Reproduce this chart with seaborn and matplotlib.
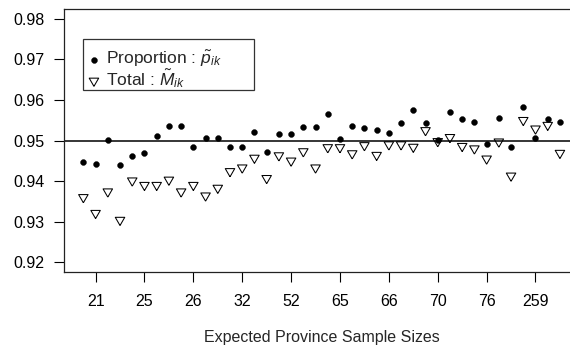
import numpy as np
import pandas as pd
import matplotlib
matplotlib.use("Agg")
import matplotlib.pyplot as plt
from matplotlib.patches import Rectangle
import seaborn as sns

# ---- data ----
tick_labels = ["21", "25", "26", "32", "52", "65", "66", "70", "76", "259"]
tick_index = [1, 5, 9, 13, 17, 21, 25, 29, 33, 37]

proportion = [0.9447, 0.9443, 0.9501, 0.9439, 0.9462, 0.9468, 0.9511, 0.9535, 0.9536, 0.9484,
              0.9505, 0.9507, 0.9485, 0.9483, 0.9520, 0.9471, 0.9516, 0.9516, 0.9533, 0.9534,
              0.9566, 0.9504, 0.9536, 0.9530, 0.9526, 0.9519, 0.9544, 0.9574, 0.9542, 0.9501,
              0.9571, 0.9553, 0.9545, 0.9491, 0.9555, 0.9483, 0.9582, 0.9506, 0.9553, 0.9546]
total = [0.9360, 0.9321, 0.9374, 0.9304, 0.9401, 0.9390, 0.9390, 0.9403, 0.9374, 0.9390,
         0.9364, 0.9383, 0.9424, 0.9433, 0.9457, 0.9407, 0.9463, 0.9450, 0.9473, 0.9433,
         0.9483, 0.9483, 0.9468, 0.9488, 0.9464, 0.9490, 0.9490, 0.9484, 0.9525, 0.9498,
         0.9508, 0.9486, 0.9480, 0.9455, 0.9497, 0.9413, 0.9550, 0.9529, 0.9538, 0.9469]
nominal = 0.95

idx = np.arange(len(proportion))
df = pd.DataFrame({"idx": idx, "proportion": proportion, "total": total})

sns.set_style("ticks")
plt.rcParams["font.family"] = ["Liberation Sans", "DejaVu Sans"]
plt.rcParams["mathtext.fontset"] = "custom"
plt.rcParams["mathtext.rm"] = "Liberation Sans"
plt.rcParams["mathtext.it"] = "Liberation Sans:italic"
plt.rcParams["mathtext.bf"] = "Liberation Sans:bold"

fig = plt.figure(figsize=(5.7, 3.5), dpi=100)
W, H = 570, 350
left, right, top, bottom = 64.3, 579, 9, 272
ax = fig.add_axes([left / W, 1 - bottom / H, (right - left) / W, (bottom - top) / H])

tri_down = [(0, -1), (-0.866, 0.5), (0.866, 0.5), (0, -1)]

sns.scatterplot(data=df, x="idx", y="proportion", ax=ax, marker="o", s=18,
                color="black", edgecolor="black", linewidth=0.3,
                label=r"Proportion : $\tilde{p}_{ik}$", zorder=3)
sns.scatterplot(data=df, x="idx", y="total", ax=ax, marker=tri_down, s=62,
                facecolor="none", edgecolor="black", linewidth=0.75,
                label=r"Total : $\tilde{M}_{ik}$", zorder=3)
ax.axhline(nominal, color="black", lw=1.1, zorder=2)

n = len(proportion)
pad = (n - 1) * 0.04
ax.set_xlim(-pad, n - 1 + pad)
ax.set_ylim(0.92 - 0.0024, 0.98 + 0.0024)
ax.set_yticks([0.92, 0.93, 0.94, 0.95, 0.96, 0.97, 0.98])
ax.set_yticklabels(["0.92", "0.93", "0.94", "0.95", "0.96", "0.97", "0.98"])
ax.set_xticks(tick_index)
ax.set_xticklabels(tick_labels)
ax.tick_params(axis="both", direction="out", length=7.2, width=0.8, colors="black",
               labelsize=11.5)
ax.tick_params(axis="y", pad=7)
ax.tick_params(axis="x", pad=9)
ax.set_ylabel("")
ax.set_xlabel("Expected Province Sample Sizes", fontsize=11.5, labelpad=15)

for s in ax.spines.values():
    s.set_visible(True)
    s.set_color("#222222")
    s.set_linewidth(0.9)

# legend box (fixed frame) + legend content
frame = Rectangle((83 / W, 1 - 90 / H), (254 - 83) / W, 51 / H,
                  transform=fig.transFigure, facecolor="white",
                  edgecolor="#333333", linewidth=0.9, zorder=4, clip_on=False)
ax.add_patch(frame)
leg = ax.legend(loc="upper left", bbox_to_anchor=(87 / W, 1 - 49 / H),
                bbox_transform=fig.transFigure, frameon=False, fontsize=12.5,
                borderpad=0, handlelength=0.8, handletextpad=0.3,
                labelspacing=-0.12, borderaxespad=0)
leg.set_zorder(5)

fig.savefig("out.png", dpi=100)
